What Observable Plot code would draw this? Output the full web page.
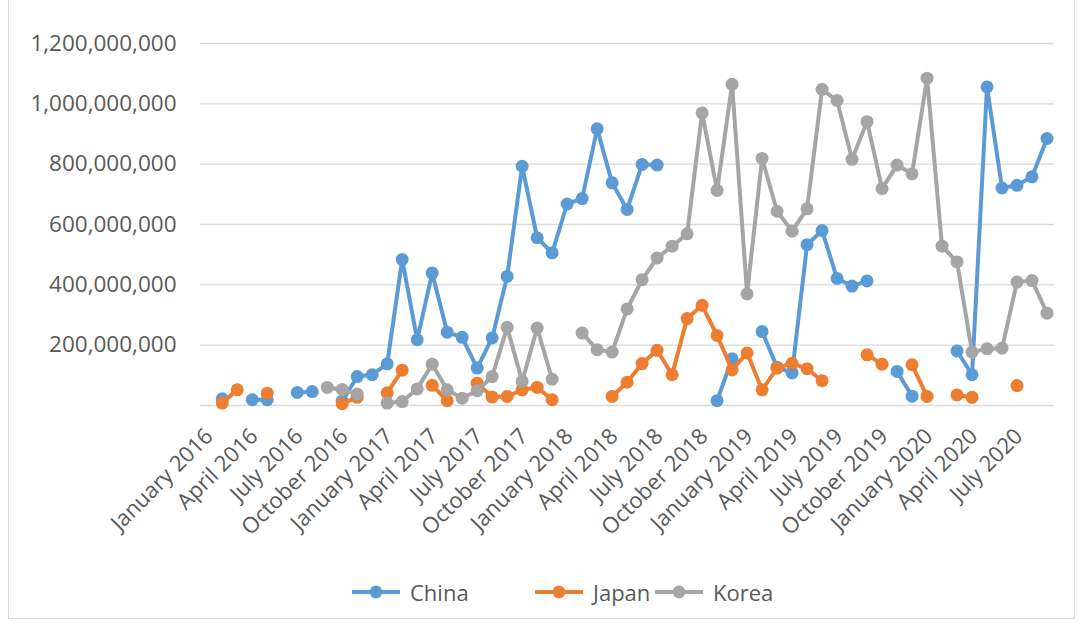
<!DOCTYPE html>
<html>
<head>
<meta charset="utf-8">
<script src="https://cdn.jsdelivr.net/npm/d3@7"></script>
<script src="https://cdn.jsdelivr.net/npm/@observablehq/plot@0.6"></script>
<style>
  body { margin: 0; background: #fff; font-family: "Open Sans", sans-serif; }
  #frame { position: absolute; left: 8px; top: 0; width: 1067px; height: 619px; border: 1px solid #d9d9d9; border-top: none; box-sizing: border-box; }
  #chart { position: absolute; left: 0; top: 0; }
  #legend { position: absolute; top: 574px; left: 0; width: 1083px; height: 36px; }
  .item { position: absolute; top: 0; display: flex; align-items: center; height: 36px; font-size: 22px; color: #595959; }
  .item svg { margin-right: 10px; }
</style>
</head>
<body>
<div id="frame"></div>
<div id="chart"></div>
<div id="legend"></div>
<script>
// ---- data (values in millions) ----
const xTickLabels = ["January 2016","April 2016","July 2016","October 2016","January 2017","April 2017","July 2017","October 2017","January 2018","April 2018","July 2018","October 2018","January 2019","April 2019","July 2019","October 2019","January 2020","April 2020","July 2020"];
const seriesNames = ["China", "Japan", "Korea"];
const seriesColors = ["#5B9BD5", "#ED7D31", "#A5A5A5"];
const china = [22,null,19,19,null,43,46,null,15,96,102,138,484,218,439,243,226,124,224,428,793,556,506,668,686,917,738,650,799,797,null,null,null,16,155,null,245,127,108,533,580,421,396,413,null,113,31,null,null,181,102,1056,721,730,758,885];
const japan = [8,52,null,41,null,null,null,null,6,27,null,42,117,null,67,16,null,74,28,30,52,60,19,null,null,null,30,77,139,183,102,288,332,232,118,174,52,124,140,122,82,null,null,168,137,null,135,30,null,35,27,null,null,66,null,null];
const korea = [null,null,null,null,null,null,null,60,53,38,null,8,13,55,137,52,24,49,96,259,80,257,87,null,240,185,177,320,417,489,528,569,970,713,1065,370,819,644,578,652,1048,1011,816,941,719,797,768,1085,528,476,177,188,190,409,414,306];
const yTicks = [0, 200e6, 400e6, 600e6, 800e6, 1000e6, 1200e6];

// ---- build table ----
const seriesValues = [china, japan, korea];
const rows = [];
seriesValues.forEach((vals, s) => {
  vals.forEach((v, i) => rows.push({series: seriesNames[s], i, value: v == null ? NaN : v * 1e6}));
});

const marks = [
  Plot.gridY(yTicks, {stroke: "#d9d9d9", strokeOpacity: 1, strokeWidth: 1.3}),
  Plot.axisY(yTicks.filter(d => d > 0), {label: null, tickSize: 0, tickPadding: 24, tickFormat: d3.format(","), fontSize: 22.5, fill: "#595959"}),
  Plot.axisX(d3.range(0, 56, 3), {label: null, tickSize: 0, tickPadding: 27, dx: -13, tickRotate: -45, tickFormat: i => xTickLabels[i / 3], fontSize: 22, fill: "#595959"})
];
seriesNames.forEach((name, s) => {
  const data = rows.filter(r => r.series === name);
  marks.push(Plot.line(data, {x: "i", y: "value", stroke: seriesColors[s], strokeWidth: 4, strokeLinejoin: "round", strokeLinecap: "round"}));
  marks.push(Plot.dot(data, {x: "i", y: "value", r: 6.5, fill: seriesColors[s], stroke: "none"}));
});

const chart = Plot.plot({
  width: 1083,
  height: 560,
  marginLeft: 200,
  marginRight: 29,
  marginTop: 43,
  marginBottom: 155,
  style: {fontFamily: "'Open Sans', sans-serif", background: "transparent", color: "#595959"},
  x: {type: "linear", domain: [-1.45, 55.5], label: null},
  y: {domain: [0, 1200e6], label: null},
  marks
});
document.getElementById("chart").appendChild(chart);

// ---- legend ----
const legendLeft = [352, 535, 655];
const legend = document.getElementById("legend");
seriesNames.forEach((name, s) => {
  const item = document.createElement("div");
  item.className = "item";
  item.style.left = legendLeft[s] + "px";
  item.innerHTML = `<svg width="48" height="14"><line x1="0" x2="48" y1="7" y2="7" stroke="${seriesColors[s]}" stroke-width="4"/><circle cx="24" cy="7" r="6.5" fill="${seriesColors[s]}"/></svg><span>${name}</span>`;
  legend.appendChild(item);
});
</script>
</body>
</html>
